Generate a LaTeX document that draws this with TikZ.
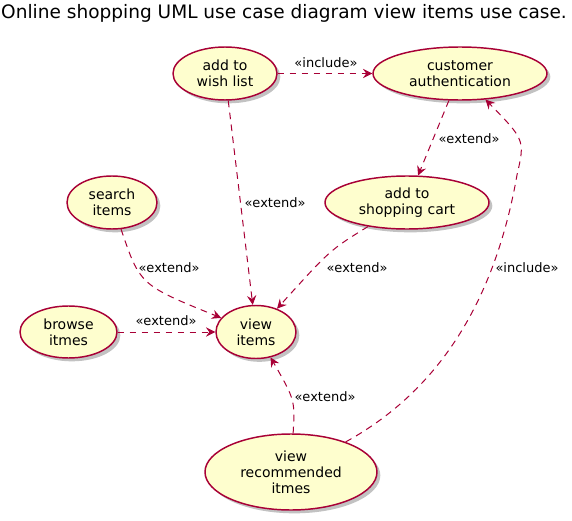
\documentclass[tikz,border=0pt]{standalone}
\usepackage{fontspec}
\setmainfont{DejaVu Sans}
\usetikzlibrary{shapes.geometric,shadows,arrows.meta}
\definecolor{ucfill}{HTML}{FEFECE}
\definecolor{ucline}{HTML}{A80036}
\tikzset{
  usecase/.style={ellipse, draw=ucline, fill=ucfill, line width=1.1pt, inner sep=0pt, align=center,
    font=\fontsize{10.5}{12}\selectfont,
    drop shadow={shadow xshift=2.5pt, shadow yshift=-2.5pt, opacity=0.4, fill=black!60}},
  dep/.style={draw=ucline, line width=0.75pt, dash pattern=on 5pt off 4pt,
    -{Stealth[length=7pt,width=7pt,inset=2.5pt]}},
  lbl/.style={font=\fontsize{9.75}{11}\selectfont, inner sep=0pt}
}
\begin{document}
\begin{tikzpicture}[x=0.75pt, y=-0.75pt]
            \useasboundingbox (0,0) rectangle (572,521);
            \node[font=\fontsize{13.9}{16}\selectfont] (title) at (284,13) {Online shopping UML use case diagram view items use case.};

            % use cases
            \node[usecase, minimum width=78pt, minimum height=39.75pt] (wish) at (225,73.5) {add to\\wish list};
            \node[usecase, minimum width=130.5pt, minimum height=39.75pt] (auth) at (460,73.5) {customer\\authentication};
            \node[usecase, minimum width=67.5pt, minimum height=39.75pt] (search) at (112,202.5) {search\\items};
            \node[usecase, minimum width=123pt, minimum height=39.75pt] (cart) at (407,202.5) {add to\\shopping cart};
            \node[usecase, minimum width=72.75pt, minimum height=39pt] (browse) at (68.5,332) {browse\\itmes};
            \node[usecase, minimum width=60pt, minimum height=39.75pt] (view) at (256,332) {view\\items};
            \node[usecase, minimum width=129pt, minimum height=57pt] (rec) at (291,472) {view\\recommended\\itmes};

            % dependencies
            \draw[dep] (wish) -- (auth);
            \draw[dep] (auth) -- (cart);
            \draw[dep] (wish) -- (view);
            \draw[dep] (search) .. controls (140,285) .. (view);
            \draw[dep] (cart) .. controls (330,250) .. (view);
            \draw[dep] (browse) -- (view);
            \draw[dep] (rec) .. controls (295,400) .. (view);
            \coordinate (bend) at (517,175);
            \draw[dep] (rec) .. controls (440,390) and (495,300) .. (bend) .. controls (525,140) .. (auth);

            % stereotypes
            \node[lbl] (inc1) at (326,63) {«include»};
            \node[lbl] (ext1) at (469,139) {«extend»};
            \node[lbl] (ext2) at (275,203) {«extend»};
            \node[lbl] (ext3) at (169,268) {«extend»};
            \node[lbl] (ext4) at (357,268) {«extend»};
            \node[lbl] (inc2) at (527,268) {«include»};
            \node[lbl] (ext5) at (166,321) {«extend»};
            \node[lbl] (ext6) at (325,397) {«extend»};
        \end{tikzpicture}
\end{document}
